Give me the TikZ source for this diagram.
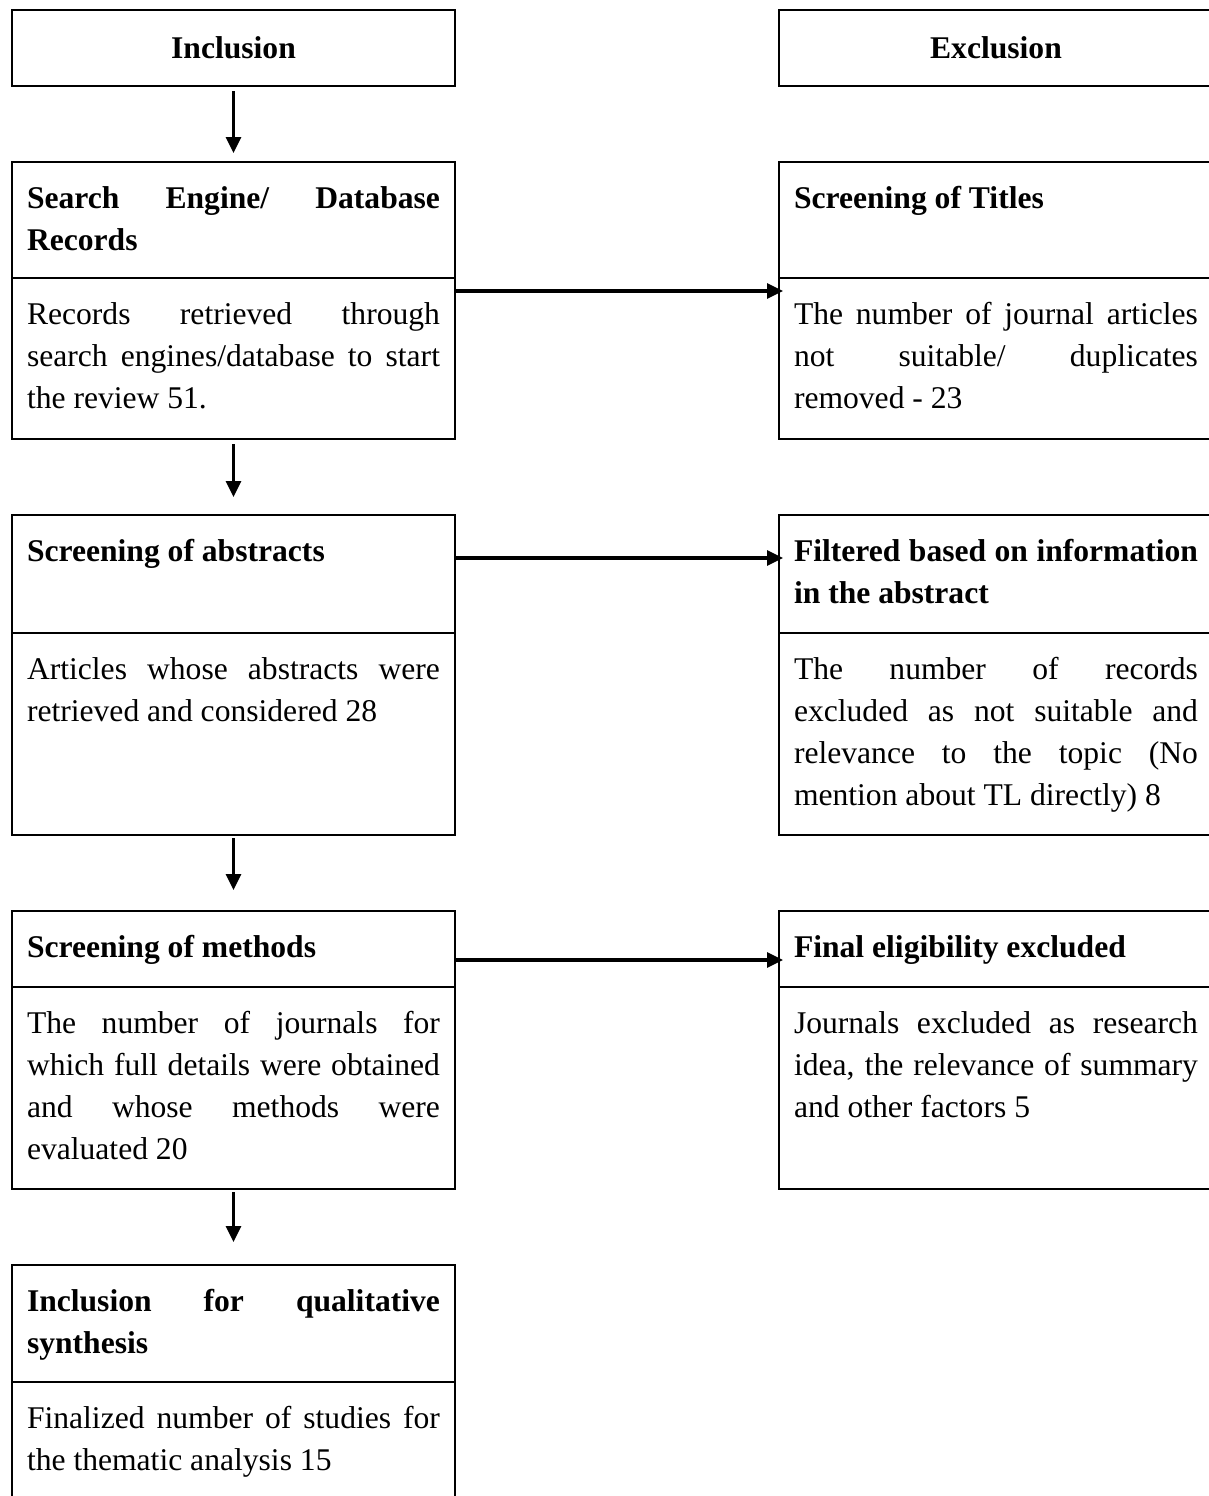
\documentclass[tikz,border=0pt]{standalone}
\usepackage{fontspec}
\setmainfont{Liberation Serif}
\usetikzlibrary{arrows.meta,positioning}
\newcommand{\boxfont}{\fontsize{15.8pt}{21pt}\selectfont\hyphenpenalty=10000\exhyphenpenalty=10000}

\begin{document}
\begin{tikzpicture}[x=0.5pt, y=-0.5pt,
  head/.style={draw, line width=1pt, outer sep=0pt, minimum width=221.5pt, minimum height=38pt, font=\boxfont\bfseries},
  part/.style={draw, line width=1pt, outer sep=0pt, text width=206.5pt, inner xsep=7.5pt, inner ysep=0pt, align=justify, text height=23pt, text depth=#1, font=\boxfont},
  ttl/.style={part=#1, font=\boxfont\bfseries},
  excl side/.style={text width=202pt},
  arr/.style={-{Triangle[length=8pt, width=7.5pt]}, line width=1.6pt}]
\useasboundingbox (0,0) rectangle (1209,1496);
\node[head, anchor=north west] (incl) at (12,10) {Inclusion};
\node[head, minimum width=217pt, anchor=north west] (excl) at (779,10) {Exclusion};

\node[ttl=35pt, below=38pt of incl] (srcht) {Search Engine/ Database\linebreak Records};
\node[part=57.5pt, below=0pt of srcht] (srchb) {Records retrieved through\linebreak search engines/database to start\linebreak the review 51.};
\node[ttl=35pt, excl side, right=162pt of srcht.north east, anchor=north west] (titlt) {Screening of Titles};
\node[part=57.5pt, excl side, below=0pt of titlt] (titlb) {The number of journal articles\linebreak not suitable/ duplicates\linebreak removed - 23};

\node[ttl=36pt, below=38pt of srchb] (abst) {Screening of abstracts};
\node[part=78pt, below=0pt of abst] (absb) {Articles whose abstracts were\linebreak retrieved and considered 28};
\node[ttl=36pt, excl side, right=162pt of abst.north east, anchor=north west] (filtt) {Filtered based on information\linebreak in the abstract};
\node[part=78pt, excl side, below=0pt of filtt] (filtb) {The number of records\linebreak excluded as not suitable and\linebreak relevance to the topic (No\linebreak mention about TL directly)~8};

\node[ttl=15pt, below=38pt of absb] (metht) {Screening of methods};
\node[part=78pt, below=0pt of metht] (methb) {The number of journals for\linebreak which full details were obtained\linebreak and whose methods were\linebreak evaluated 20};
\node[ttl=15pt, excl side, right=162pt of metht.north east, anchor=north west] (finlt) {Final eligibility excluded};
\node[part=78pt, excl side, below=0pt of finlt] (finlb) {Journals excluded as research\linebreak idea, the relevance of summary\linebreak and other factors 5};

\node[ttl=35.5pt, below=38pt of methb] (synt) {Inclusion for qualitative\linebreak synthesis};
\node[part=57.5pt, below=0pt of synt] (synb) {Finalized number of studies for\linebreak the thematic analysis 15};

% down the inclusion side
\draw[arr, shorten <=2.5pt, shorten >=4.5pt] (incl.south) -- (srcht.north);
\draw[arr, shorten <=2.5pt, shorten >=9pt] (srchb.south) -- (abst.north);
\draw[arr, shorten <=1.5pt, shorten >=10.5pt] (absb.south) -- (metht.north);
\draw[arr, shorten <=1.5pt, shorten >=11.5pt] (methb.south) -- (synt.north);

% across to the exclusion side
\draw[arr, shorten >=-2pt] ([yshift=-6.5pt]srchb.north east) -- ([yshift=-6.5pt]titlb.north west);
\draw[arr, shorten >=-2pt] ([yshift=-21.5pt]abst.north east) -- ([yshift=-21.5pt]filtt.north west);
\draw[arr, shorten >=-2pt] ([yshift=-24.5pt]metht.north east) -- ([yshift=-24.5pt]finlt.north west);
\end{tikzpicture}
\end{document}
